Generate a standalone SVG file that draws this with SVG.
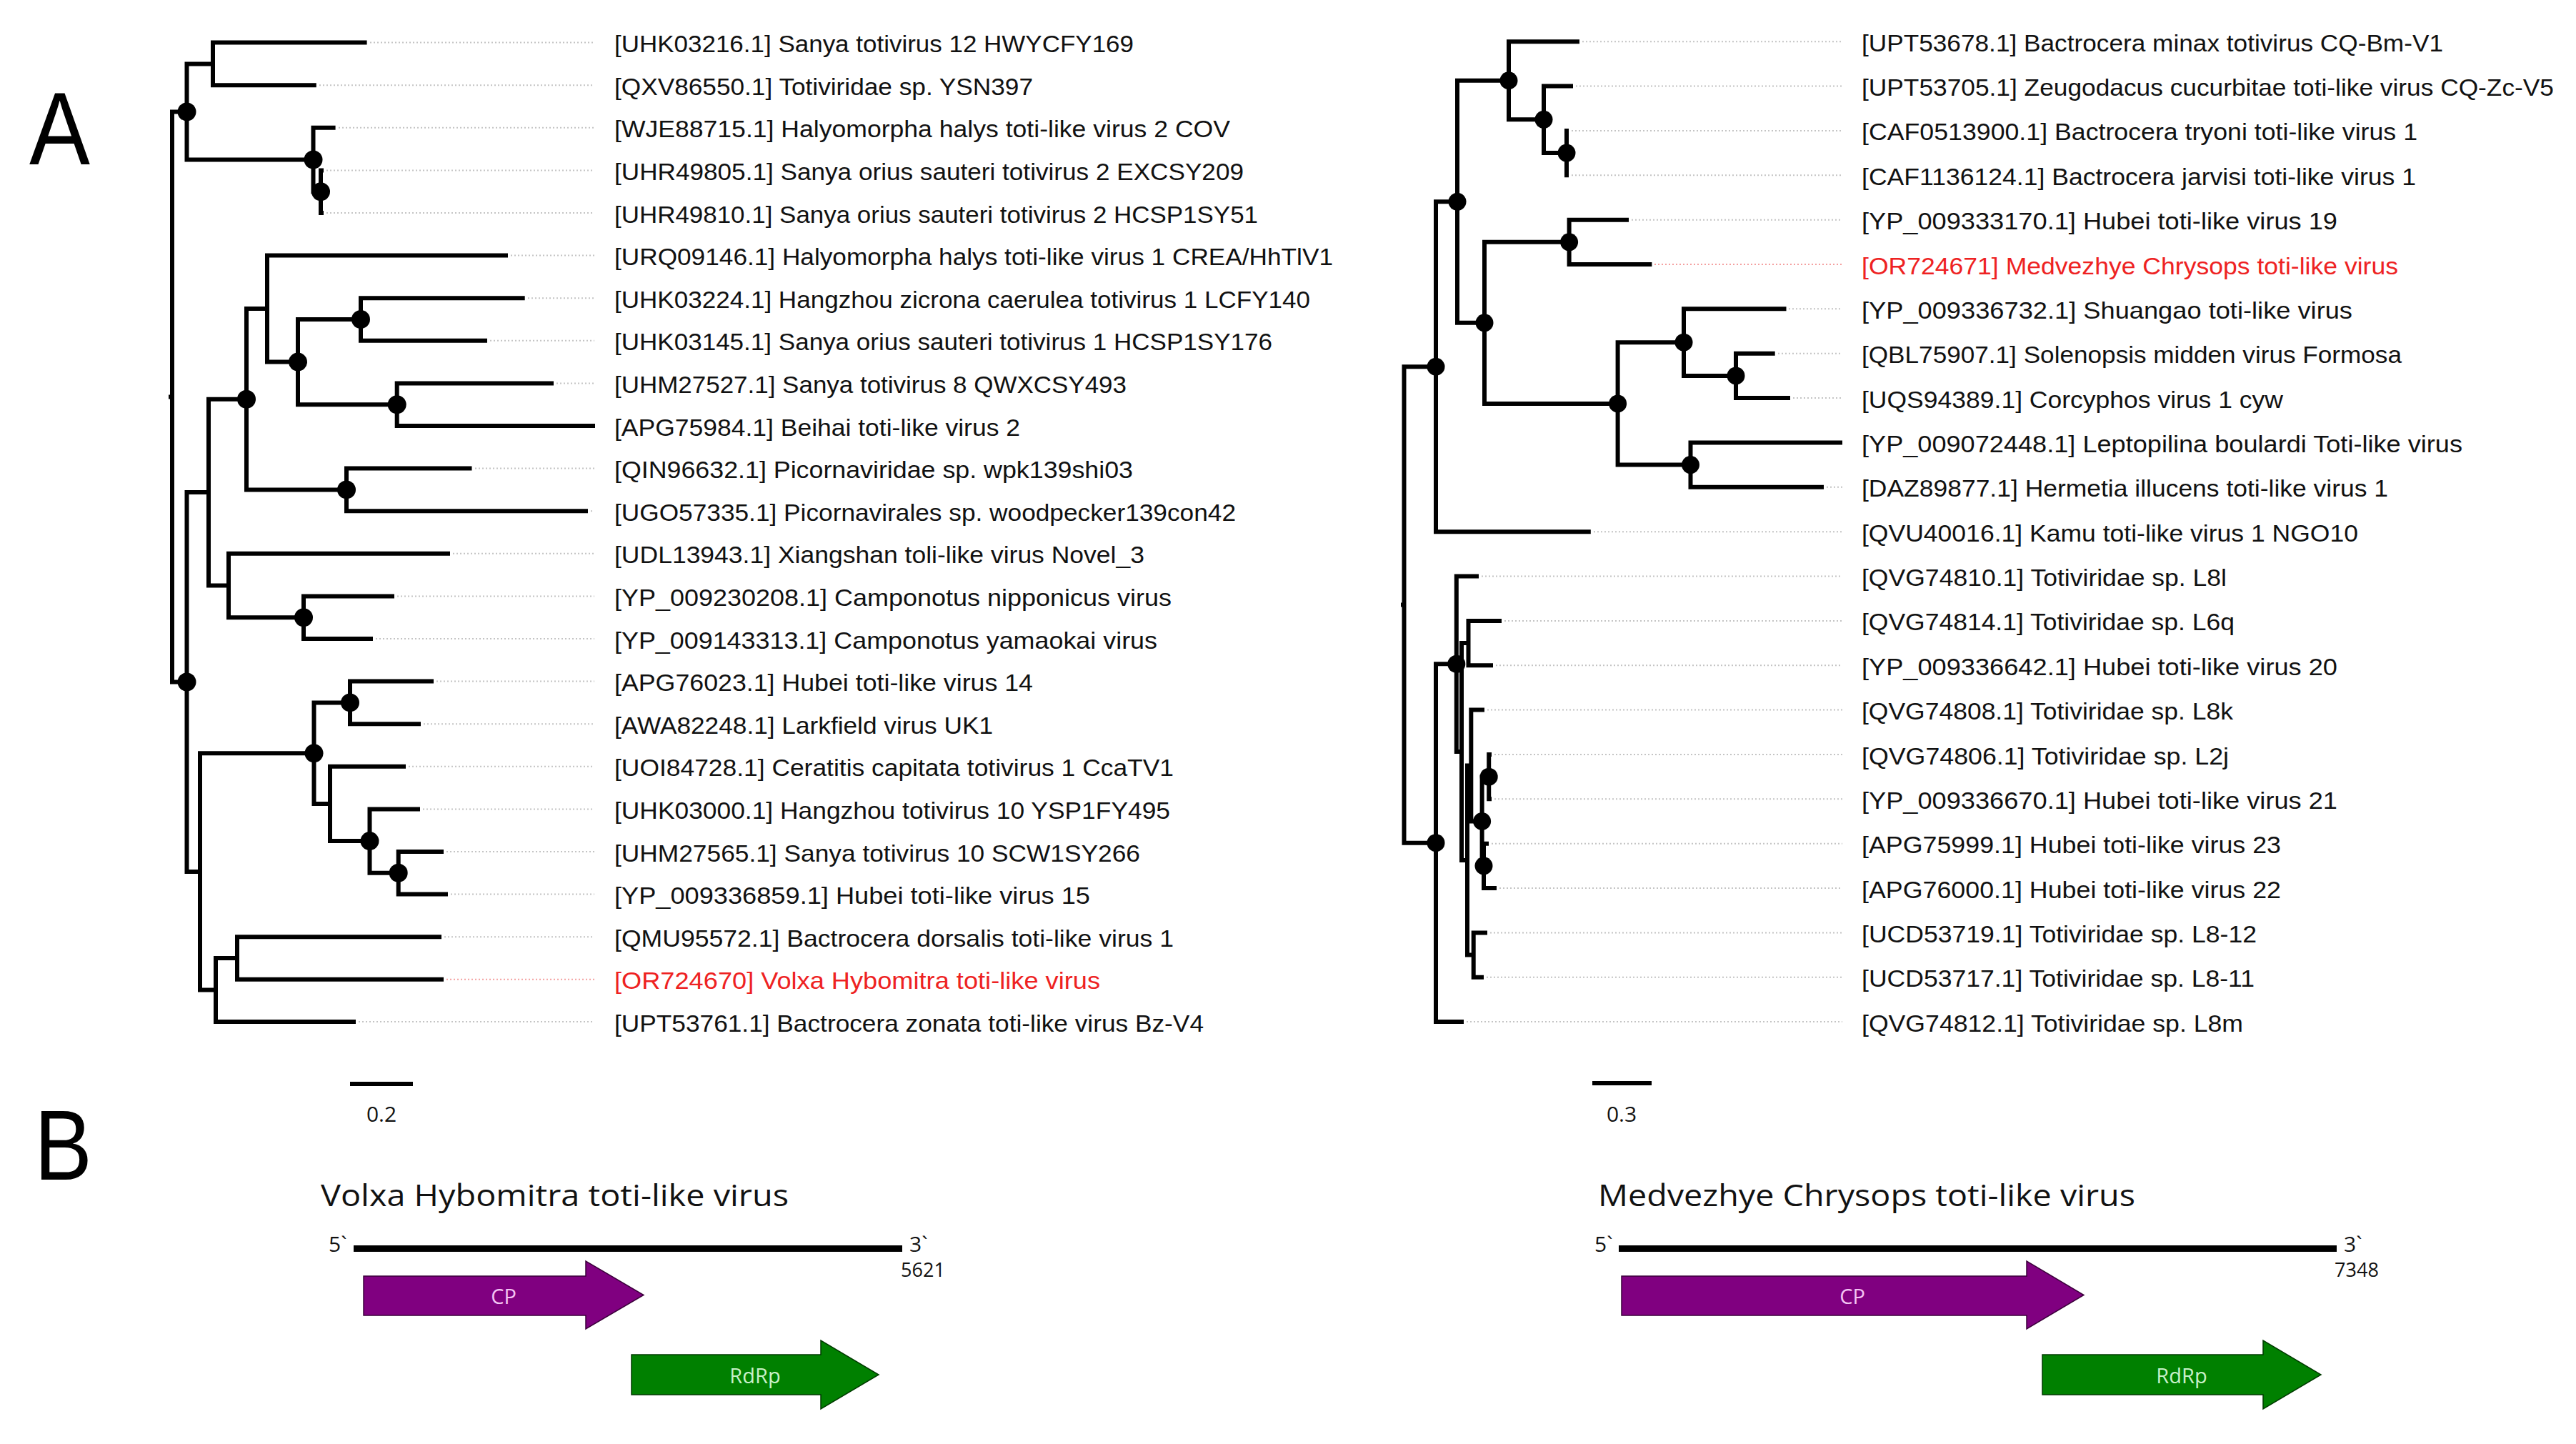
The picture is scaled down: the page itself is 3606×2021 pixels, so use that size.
<svg xmlns="http://www.w3.org/2000/svg" width="3606" height="2021" viewBox="0 0 3606 2021">
<style>
.br{fill:none;stroke:#000;stroke-width:6;stroke-linejoin:miter}
.ld{fill:none;stroke:#c4c4c4;stroke-width:2;stroke-dasharray:2 3}
.ldr{fill:none;stroke:#f4a0a0;stroke-width:2;stroke-dasharray:2 3}
.lb{font-family:"Liberation Sans",Arial,sans-serif;font-size:34px;fill:#111}
.red{fill:#ee2222}
.dot{fill:#000}
.ttl{font-family:"Open Sans","Liberation Sans",sans-serif;font-size:42px;fill:#111}
.sm{font-family:"Open Sans","Liberation Sans",sans-serif;font-size:30px;fill:#111}
.big{font-family:"Liberation Sans",Arial,sans-serif;font-size:145px;fill:#000}
.gl{font-family:"Open Sans","Liberation Sans",sans-serif;font-size:29px;text-anchor:middle}
</style>
<rect width="3606" height="2021" fill="#fff"/>
<text class="big" x="41" y="230" textLength="85" lengthAdjust="spacingAndGlyphs">A</text>
<text class="big" x="48" y="1651" textLength="81" lengthAdjust="spacingAndGlyphs" style="font-size:140px">B</text>

<g id="connectors-left">
<path class="br" d="M236 555.5H241M261.5 156.45H241V954.5H261.5"/>
<path class="br" d="M298 89.4H261.5V223.5H438.5"/>
<path class="br" d="M513.6 59.6H298V119.2H442.8"/>
<path class="br" d="M469.6 178.8H438.5V268.2H449"/>
<path class="br" d="M453 238.4H449V298H453"/>
<path class="br" d="M292 689.1H261.5V1219.9H280"/>
<path class="br" d="M345 558.75H292V819.5H320"/>
<path class="br" d="M374 432.1H345V685.4H485"/>
<path class="br" d="M711 357.6H374V506.6H417"/>
<path class="br" d="M505 447H417V566.2H555.7"/>
<path class="br" d="M734.7 417.2H505V476.8H682"/>
<path class="br" d="M775 536.4H555.7V596H833"/>
<path class="br" d="M660.5 655.6H485V715.2H823"/>
<path class="br" d="M630 774.8H320V864.2H425"/>
<path class="br" d="M552 834.4H425V894H522"/>
<path class="br" d="M439.5 1054.2H280V1385.5H302"/>
<path class="br" d="M490 983.4H439.5V1124.95H462"/>
<path class="br" d="M607 953.6H490V1013.2H589"/>
<path class="br" d="M568 1072.8H462V1177.1H517.5"/>
<path class="br" d="M588 1132.4H517.5V1221.8H557.7"/>
<path class="br" d="M621 1192H557.7V1251.6H627"/>
<path class="br" d="M332 1341H302V1430H498"/>
<path class="br" d="M618 1311.2H332V1370.8H621"/>
<path class="ld" d="M518 59.6H832M447 119.2H832M474 178.8H832M457 238.4H832M457 298H832M715 357.6H832M739 417.2H832M686 476.8H832M779 536.4H832M665 655.6H832M827 715.2H832M634 774.8H832M556 834.4H832M526 894H832M611 953.6H832M593 1013.2H832M572 1072.8H832M592 1132.4H832M625 1192H832M631 1251.6H832M622 1311.2H832M502 1430H832"/>
<path class="ldr" d="M625 1370.8H832"/>
</g>

<g id="internal-nodes-left">
<circle class="dot" cx="261.5" cy="156.45" r="13"/>
<circle class="dot" cx="438.5" cy="223.5" r="13"/>
<circle class="dot" cx="449" cy="268.2" r="13"/>
<circle class="dot" cx="261.5" cy="954.5" r="13"/>
<circle class="dot" cx="345" cy="558.75" r="13"/>
<circle class="dot" cx="417" cy="506.6" r="13"/>
<circle class="dot" cx="505" cy="447" r="13"/>
<circle class="dot" cx="555.7" cy="566.2" r="13"/>
<circle class="dot" cx="485" cy="685.4" r="13"/>
<circle class="dot" cx="425" cy="864.2" r="13"/>
<circle class="dot" cx="439.5" cy="1054.2" r="13"/>
<circle class="dot" cx="490" cy="983.4" r="13"/>
<circle class="dot" cx="517.5" cy="1177.1" r="13"/>
<circle class="dot" cx="557.7" cy="1221.8" r="13"/>
</g>

<g id="labels-left" class="lb">
<g id="L1"><text x="860" y="73.1" textLength="727" lengthAdjust="spacingAndGlyphs">[UHK03216.1] Sanya totivirus 12 HWYCFY169</text></g>
<g id="L2"><text x="860" y="132.7" textLength="586" lengthAdjust="spacingAndGlyphs">[QXV86550.1] Totiviridae sp. YSN397</text></g>
<g id="L3"><text x="860" y="192.3" textLength="862" lengthAdjust="spacingAndGlyphs">[WJE88715.1] Halyomorpha halys toti-like virus 2 COV</text></g>
<g id="L4"><text x="860" y="251.9" textLength="881" lengthAdjust="spacingAndGlyphs">[UHR49805.1] Sanya orius sauteri totivirus 2 EXCSY209</text></g>
<g id="L5"><text x="860" y="311.5" textLength="901" lengthAdjust="spacingAndGlyphs">[UHR49810.1] Sanya orius sauteri totivirus 2 HCSP1SY51</text></g>
<g id="L6"><text x="860" y="371.1" textLength="1006" lengthAdjust="spacingAndGlyphs">[URQ09146.1] Halyomorpha halys toti-like virus 1 CREA/HhTlV1</text></g>
<g id="L7"><text x="860" y="430.7" textLength="974" lengthAdjust="spacingAndGlyphs">[UHK03224.1] Hangzhou zicrona caerulea totivirus 1 LCFY140</text></g>
<g id="L8"><text x="860" y="490.3" textLength="921" lengthAdjust="spacingAndGlyphs">[UHK03145.1] Sanya orius sauteri totivirus 1 HCSP1SY176</text></g>
<g id="L9"><text x="860" y="549.9" textLength="717" lengthAdjust="spacingAndGlyphs">[UHM27527.1] Sanya totivirus 8 QWXCSY493</text></g>
<g id="L10"><text x="860" y="609.5" textLength="568" lengthAdjust="spacingAndGlyphs">[APG75984.1] Beihai toti-like virus 2</text></g>
<g id="L11"><text x="860" y="669.1" textLength="726" lengthAdjust="spacingAndGlyphs">[QIN96632.1] Picornaviridae sp. wpk139shi03</text></g>
<g id="L12"><text x="860" y="728.7" textLength="870" lengthAdjust="spacingAndGlyphs">[UGO57335.1] Picornavirales sp. woodpecker139con42</text></g>
<g id="L13"><text x="860" y="788.3" textLength="742" lengthAdjust="spacingAndGlyphs">[UDL13943.1] Xiangshan toli-like virus Novel_3</text></g>
<g id="L14"><text x="860" y="847.9" textLength="780" lengthAdjust="spacingAndGlyphs">[YP_009230208.1] Camponotus nipponicus virus</text></g>
<g id="L15"><text x="860" y="907.5" textLength="760" lengthAdjust="spacingAndGlyphs">[YP_009143313.1] Camponotus yamaokai virus</text></g>
<g id="L16"><text x="860" y="967.1" textLength="586" lengthAdjust="spacingAndGlyphs">[APG76023.1] Hubei toti-like virus 14</text></g>
<g id="L17"><text x="860" y="1026.7" textLength="530" lengthAdjust="spacingAndGlyphs">[AWA82248.1] Larkfield virus UK1</text></g>
<g id="L18"><text x="860" y="1086.3" textLength="783" lengthAdjust="spacingAndGlyphs">[UOI84728.1] Ceratitis capitata totivirus 1 CcaTV1</text></g>
<g id="L19"><text x="860" y="1145.9" textLength="778" lengthAdjust="spacingAndGlyphs">[UHK03000.1] Hangzhou totivirus 10 YSP1FY495</text></g>
<g id="L20"><text x="860" y="1205.5" textLength="736" lengthAdjust="spacingAndGlyphs">[UHM27565.1] Sanya totivirus 10 SCW1SY266</text></g>
<g id="L21"><text x="860" y="1265.1" textLength="666" lengthAdjust="spacingAndGlyphs">[YP_009336859.1] Hubei toti-like virus 15</text></g>
<g id="L22"><text x="860" y="1324.7" textLength="783" lengthAdjust="spacingAndGlyphs">[QMU95572.1] Bactrocera dorsalis toti-like virus 1</text></g>
<g id="L23"><text class="red" x="860" y="1384.3" textLength="680" lengthAdjust="spacingAndGlyphs">[OR724670] Volxa Hybomitra toti-like virus</text></g>
<g id="L24"><text x="860" y="1443.9" textLength="825" lengthAdjust="spacingAndGlyphs">[UPT53761.1] Bactrocera zonata toti-like virus Bz-V4</text></g>
</g>

<g id="connectors-right">
<path class="br" d="M1961 846.5H1965.5M2010 513.24H1965.5V1179.7H2010"/>
<path class="br" d="M2040 282.31H2010V744.16H2226.8"/>
<path class="br" d="M2112 112.77H2040V451.85H2078"/>
<path class="br" d="M2211 58.2H2112V167.33H2161"/>
<path class="br" d="M2202 120.56H2161V214.1H2193"/>
<path class="br" d="M2196 182.92H2193V245.28H2196"/>
<path class="br" d="M2196.6 338.82H2078V564.88H2264.6"/>
<path class="br" d="M2280 307.64H2196.6V370H2312.4"/>
<path class="br" d="M2357 479.13H2264.6V650.62H2366.5"/>
<path class="br" d="M2500.5 432.36H2357V525.9H2430"/>
<path class="br" d="M2484.7 494.72H2430V557.08H2506"/>
<path class="br" d="M2579 619.44H2366.5V681.8H2553"/>
<path class="br" d="M2038.8 929.29H2010V1430.12H2049"/>
<path class="br" d="M2070 806.52H2038.8V1052.06H2046"/>
<path class="br" d="M2055.5 900.06H2046V1204.07H2054"/>
<path class="br" d="M2102 868.88H2055.5V931.24H2090"/>
<path class="br" d="M2059.3 1071.55H2054V1336.58H2062.7"/>
<path class="br" d="M2078 993.6H2059.3V1149.5H2074.6"/>
<path class="br" d="M2084.2 1087.14H2074.6V1211.86H2077"/>
<path class="br" d="M2088 1055.96H2084.2V1118.32H2088"/>
<path class="br" d="M2084 1180.68H2077V1243.04H2095"/>
<path class="br" d="M2082 1305.4H2062.7V1367.76H2077"/>
<path class="ld" d="M2215 58.2H2579M2206 120.56H2579M2200 182.92H2579M2200 245.28H2579M2284 307.64H2579M2504 432.36H2579M2489 494.72H2579M2510 557.08H2579M2557 681.8H2579M2231 744.16H2579M2074 806.52H2579M2106 868.88H2579M2094 931.24H2579M2082 993.6H2579M2092 1055.96H2579M2092 1118.32H2579M2088 1180.68H2579M2099 1243.04H2579M2086 1305.4H2579M2081 1367.76H2579M2053 1430.12H2579"/>
<path class="ldr" d="M2316 370H2579"/>
</g>

<g id="internal-nodes-right">
<circle class="dot" cx="2010" cy="513.24" r="12.5"/>
<circle class="dot" cx="2040" cy="282.31" r="12.5"/>
<circle class="dot" cx="2112" cy="112.77" r="12.5"/>
<circle class="dot" cx="2161" cy="167.33" r="12.5"/>
<circle class="dot" cx="2193" cy="214.1" r="12.5"/>
<circle class="dot" cx="2078" cy="451.85" r="12.5"/>
<circle class="dot" cx="2196.6" cy="338.82" r="12.5"/>
<circle class="dot" cx="2264.6" cy="564.88" r="12.5"/>
<circle class="dot" cx="2357" cy="479.13" r="12.5"/>
<circle class="dot" cx="2430" cy="525.9" r="12.5"/>
<circle class="dot" cx="2366.5" cy="650.62" r="12.5"/>
<circle class="dot" cx="2010" cy="1179.7" r="12.5"/>
<circle class="dot" cx="2038.8" cy="929.29" r="12.5"/>
<circle class="dot" cx="2074.6" cy="1149.5" r="12.5"/>
<circle class="dot" cx="2084.2" cy="1087.14" r="12.5"/>
<circle class="dot" cx="2077" cy="1211.86" r="12.5"/>
</g>

<g id="labels-right" class="lb">
<g id="R1"><text x="2606" y="71.7" textLength="814" lengthAdjust="spacingAndGlyphs">[UPT53678.1] Bactrocera minax totivirus CQ-Bm-V1</text></g>
<g id="R2"><text x="2606" y="134.1" textLength="969" lengthAdjust="spacingAndGlyphs">[UPT53705.1] Zeugodacus cucurbitae toti-like virus CQ-Zc-V5</text></g>
<g id="R3"><text x="2606" y="196.4" textLength="778" lengthAdjust="spacingAndGlyphs">[CAF0513900.1] Bactrocera tryoni toti-like virus 1</text></g>
<g id="R4"><text x="2606" y="258.8" textLength="776" lengthAdjust="spacingAndGlyphs">[CAF1136124.1] Bactrocera jarvisi toti-like virus 1</text></g>
<g id="R5"><text x="2606" y="321.1" textLength="666" lengthAdjust="spacingAndGlyphs">[YP_009333170.1] Hubei toti-like virus 19</text></g>
<g id="R6"><text class="red" x="2606" y="383.5" textLength="751" lengthAdjust="spacingAndGlyphs">[OR724671] Medvezhye Chrysops toti-like virus</text></g>
<g id="R7"><text x="2606" y="445.9" textLength="687" lengthAdjust="spacingAndGlyphs">[YP_009336732.1] Shuangao toti-like virus</text></g>
<g id="R8"><text x="2606" y="508.2" textLength="756" lengthAdjust="spacingAndGlyphs">[QBL75907.1] Solenopsis midden virus Formosa</text></g>
<g id="R9"><text x="2606" y="570.6" textLength="590" lengthAdjust="spacingAndGlyphs">[UQS94389.1] Corcyphos virus 1 cyw</text></g>
<g id="R10"><text x="2606" y="632.9" textLength="841" lengthAdjust="spacingAndGlyphs">[YP_009072448.1] Leptopilina boulardi Toti-like virus</text></g>
<g id="R11"><text x="2606" y="695.3" textLength="737" lengthAdjust="spacingAndGlyphs">[DAZ89877.1] Hermetia illucens toti-like virus 1</text></g>
<g id="R12"><text x="2606" y="757.7" textLength="695" lengthAdjust="spacingAndGlyphs">[QVU40016.1] Kamu toti-like virus 1 NGO10</text></g>
<g id="R13"><text x="2606" y="820" textLength="511" lengthAdjust="spacingAndGlyphs">[QVG74810.1] Totiviridae sp. L8l</text></g>
<g id="R14"><text x="2606" y="882.4" textLength="522" lengthAdjust="spacingAndGlyphs">[QVG74814.1] Totiviridae sp. L6q</text></g>
<g id="R15"><text x="2606" y="944.7" textLength="666" lengthAdjust="spacingAndGlyphs">[YP_009336642.1] Hubei toti-like virus 20</text></g>
<g id="R16"><text x="2606" y="1007.1" textLength="520" lengthAdjust="spacingAndGlyphs">[QVG74808.1] Totiviridae sp. L8k</text></g>
<g id="R17"><text x="2606" y="1069.5" textLength="514" lengthAdjust="spacingAndGlyphs">[QVG74806.1] Totiviridae sp. L2j</text></g>
<g id="R18"><text x="2606" y="1131.8" textLength="666" lengthAdjust="spacingAndGlyphs">[YP_009336670.1] Hubei toti-like virus 21</text></g>
<g id="R19"><text x="2606" y="1194.2" textLength="587" lengthAdjust="spacingAndGlyphs">[APG75999.1] Hubei toti-like virus 23</text></g>
<g id="R20"><text x="2606" y="1256.5" textLength="587" lengthAdjust="spacingAndGlyphs">[APG76000.1] Hubei toti-like virus 22</text></g>
<g id="R21"><text x="2606" y="1318.9" textLength="553" lengthAdjust="spacingAndGlyphs">[UCD53719.1] Totiviridae sp. L8-12</text></g>
<g id="R22"><text x="2606" y="1381.3" textLength="550" lengthAdjust="spacingAndGlyphs">[UCD53717.1] Totiviridae sp. L8-11</text></g>
<g id="R23"><text x="2606" y="1443.6" textLength="534" lengthAdjust="spacingAndGlyphs">[QVG74812.1] Totiviridae sp. L8m</text></g>
</g>

<g id="scalebars">
<rect x="490" y="1514" width="88" height="6" fill="#000"/>
<text class="sm" x="534" y="1570" text-anchor="middle">0.2</text>
<rect x="2229" y="1513" width="83" height="6" fill="#000"/>
<text class="sm" x="2270" y="1570" text-anchor="middle">0.3</text>
</g>

<g id="genome-left">
<text class="ttl" x="449" y="1688" textLength="655" lengthAdjust="spacingAndGlyphs">Volxa Hybomitra toti-like virus</text>
<text class="sm" x="460" y="1752">5`</text>
<rect x="495" y="1743" width="768" height="9" fill="#000"/>
<text class="sm" x="1273" y="1752">3`</text>
<text class="sm" x="1292" y="1787" text-anchor="middle" style="font-size:27px">5621</text>
<g id="cp-left"><polygon points="509,1786 820,1786 820,1765 901,1812.5 820,1860 820,1841 509,1841" fill="#800080" stroke="#3a003a" stroke-width="1.5"/>
<text class="gl" x="705" y="1825" fill="#f4c4f4">CP</text></g>
<g id="rdrp-left"><polygon points="884,1896 1149,1896 1149,1876 1230,1924 1149,1972 1149,1952 884,1952" fill="#008000" stroke="#003a00" stroke-width="1.5"/>
<text class="gl" x="1057" y="1936" fill="#c8f0c8">RdRp</text></g>
</g>

<g id="genome-right">
<text class="ttl" x="2237" y="1688" textLength="752" lengthAdjust="spacingAndGlyphs">Medvezhye Chrysops toti-like virus</text>
<text class="sm" x="2232" y="1752">5`</text>
<rect x="2266" y="1743" width="1005" height="9" fill="#000"/>
<text class="sm" x="3281" y="1752">3`</text>
<text class="sm" x="3299" y="1787" text-anchor="middle" style="font-size:27px">7348</text>
<g id="cp-right"><polygon points="2270,1786 2837,1786 2837,1765 2917,1812.5 2837,1860 2837,1841 2270,1841" fill="#800080" stroke="#3a003a" stroke-width="1.5"/>
<text class="gl" x="2593" y="1825" fill="#f4c4f4">CP</text></g>
<g id="rdrp-right"><polygon points="2859,1896 3168,1896 3168,1876 3249,1924 3168,1972 3168,1952 2859,1952" fill="#008000" stroke="#003a00" stroke-width="1.5"/>
<text class="gl" x="3054" y="1936" fill="#c8f0c8">RdRp</text></g>
</g>
</svg>
